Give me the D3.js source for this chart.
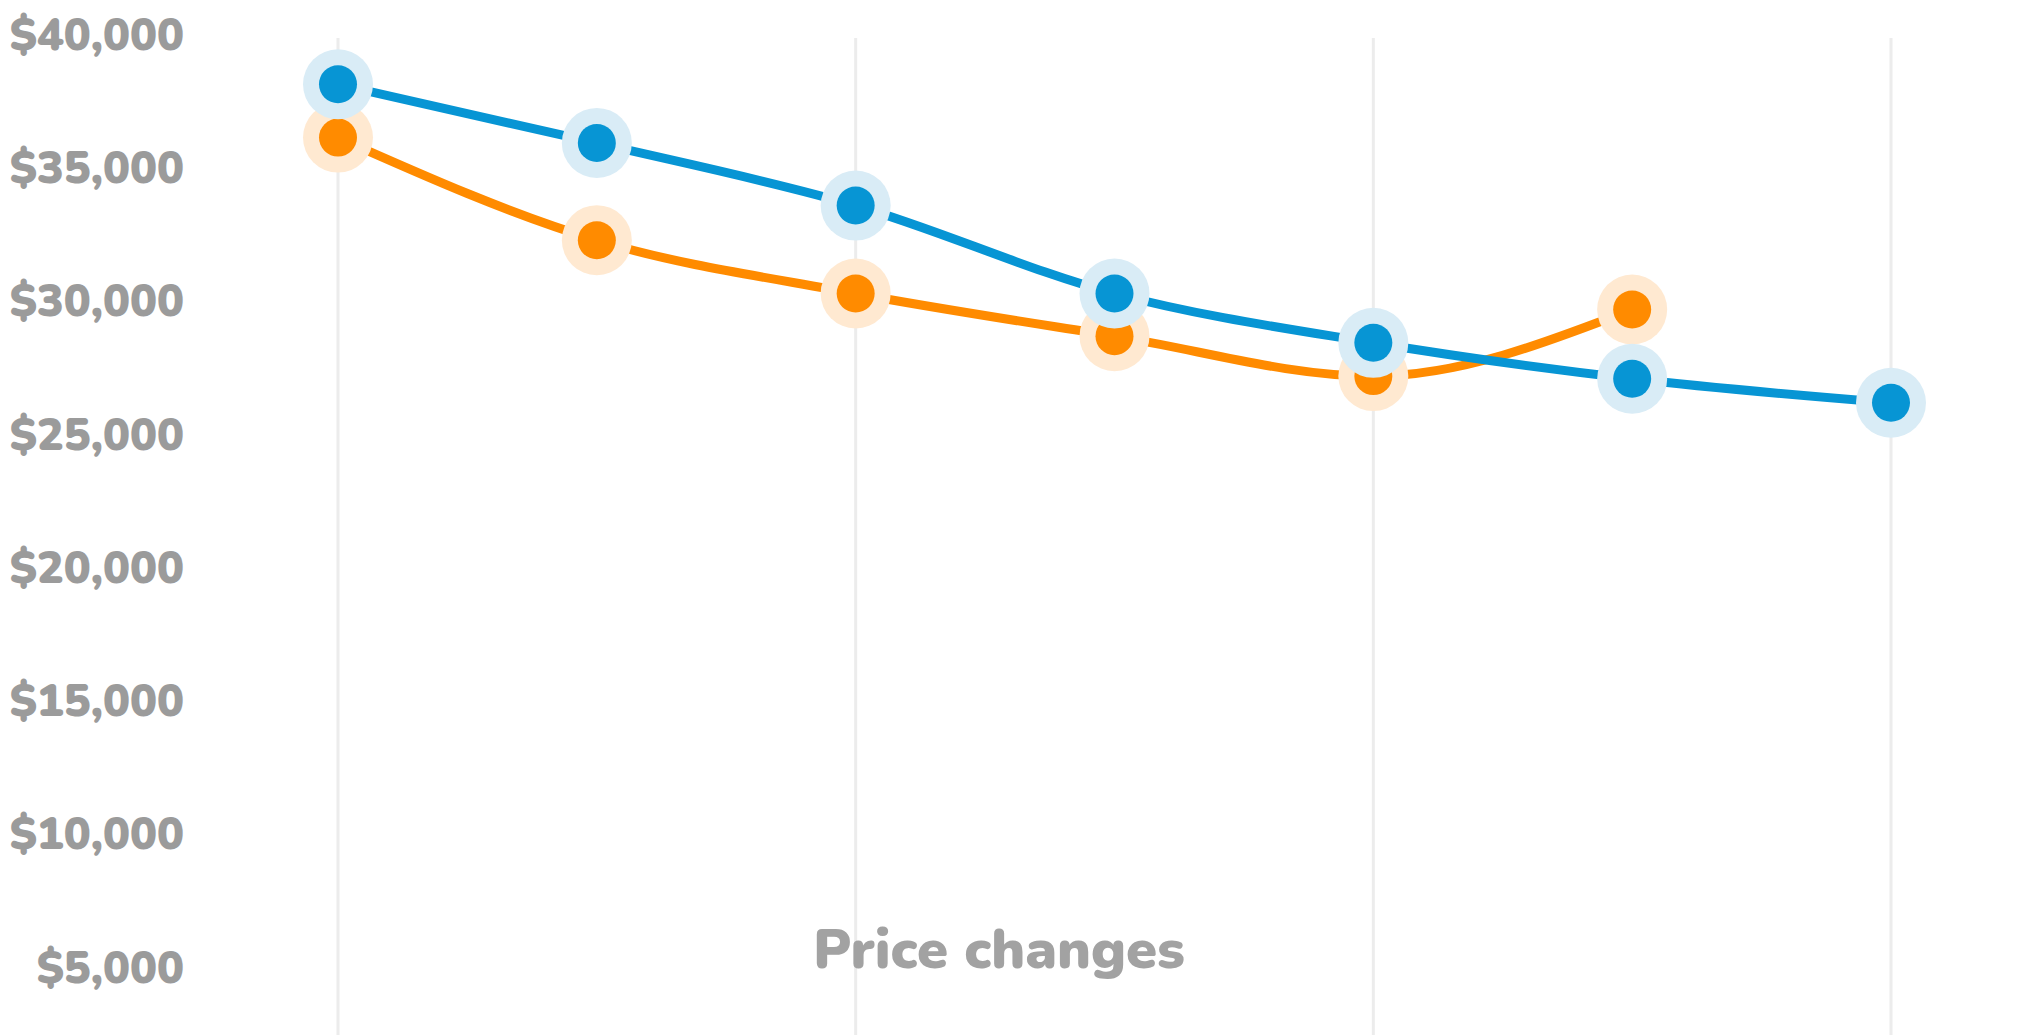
<!DOCTYPE html>
<html>
<head>
<meta charset="utf-8">
<script src="https://cdn.jsdelivr.net/npm/d3@7"></script>
<style>
  html, body { margin: 0; padding: 0; background: #fff; }
  svg { display: block; }
  text { font-family: "Nunito", "Lato", "Open Sans", sans-serif; font-weight: 900; }
</style>
</head>
<body>
<svg id="chart" width="2040" height="1035"></svg>
<script>
const categories = ["1", "2", "3", "4", "5", "6", "7"];
const blueValues = [38150, 35950, 33600, 30300, 28450, 27100, 26200];
const orangeValues = [36150, 32300, 30300, 28700, 27200, 29700];
const yTicks = [5000, 10000, 15000, 20000, 25000, 30000, 35000, 40000];
const gridCategories = ["1", "3", "5", "7"];
const title = "Price changes";

const svg = d3.select("#chart");
const W = 2040, H = 1035;

const x = d3.scalePoint().domain(categories).range([338, 1891]);
const y = d3.scaleLinear().domain([0, 40000]).range([1101, 35]);

// vertical grid lines
svg.append("g").selectAll("line").data(gridCategories).join("line")
  .attr("x1", d => x(d)).attr("x2", d => x(d))
  .attr("y1", 38).attr("y2", H)
  .attr("stroke", "#ececec").attr("stroke-width", 3);

// y axis labels
const fmt = d => "$" + d3.format(",")(d);
const yAxis = d3.axisLeft(y).tickValues(yTicks).tickFormat(fmt).tickSize(0).tickPadding(0);
const yg = svg.append("g").attr("transform", "translate(184,0)").call(yAxis);
yg.select(".domain").remove();
yg.selectAll("text")
  .attr("fill", "#9b9b9b")
  .style("font-size", "45px")
  .style("font-family", "Nunito, Lato, 'Open Sans', sans-serif")
  .style("font-weight", 900);

// title
svg.append("text")
  .attr("x", 999).attr("y", 968)
  .attr("text-anchor", "middle")
  .attr("fill", "#a2a2a2")
  .style("font-size", "56px")
  .text(title);

const series = [
  { values: orangeValues, color: "#ff8b00", halo: "#ffe9d1" },
  { values: blueValues, color: "#0795d4", halo: "#d9ecf6" }
];

const line = d3.line()
  .x((d, i) => x(categories[i]))
  .y(d => y(d))
  .curve(d3.curveMonotoneX);

series.forEach(s => {
  svg.append("path")
    .datum(s.values)
    .attr("d", line)
    .attr("fill", "none")
    .attr("stroke", s.color)
    .attr("stroke-width", 9);
});

series.forEach(s => {
  const g = svg.append("g");
  g.selectAll("circle.halo").data(s.values).join("circle")
    .attr("class", "halo")
    .attr("cx", (d, i) => x(categories[i]))
    .attr("cy", d => y(d))
    .attr("r", 35)
    .attr("fill", s.halo);
  g.selectAll("circle.dot").data(s.values).join("circle")
    .attr("class", "dot")
    .attr("cx", (d, i) => x(categories[i]))
    .attr("cy", d => y(d))
    .attr("r", 19)
    .attr("fill", s.color);
});
</script>
</body>
</html>
